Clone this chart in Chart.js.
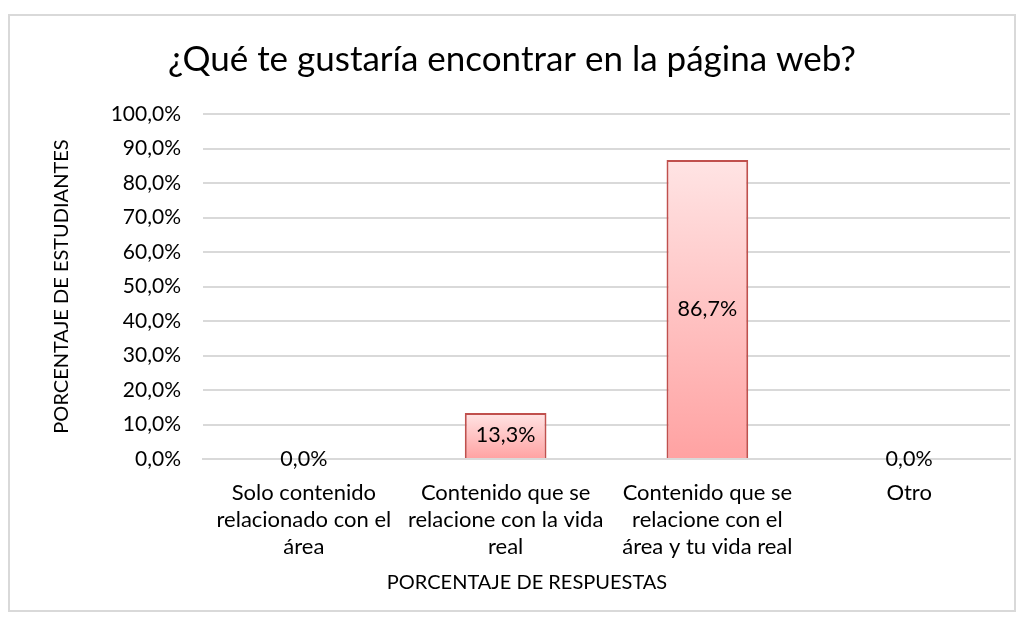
<!DOCTYPE html>
<html>
<head>
<meta charset="utf-8">
<script src="https://cdn.jsdelivr.net/npm/chart.js@4.4.1/dist/chart.umd.min.js"></script>
<style>
  html, body { margin: 0; padding: 0; background: #fff; }
  #wrap { width: 1024px; height: 625px; }
</style>
</head>
<body>
<div id="wrap"><canvas id="grafico" width="1024" height="625"></canvas></div>
<script>
// datos del grafico
const categorias = [
    ['Solo contenido', 'relacionado con el', 'área'],
    ['Contenido que se', 'relacione con la vida', 'real'],
    ['Contenido que se', 'relacione con el', 'área y tu vida real'],
    ['Otro']
];
const porcentajes = [0.0, 13.3, 86.7, 0.0];
const ticksY = [0, 10, 20, 30, 40, 50, 60, 70, 80, 90, 100];

const FUENTE = 'Lato, "Noto Sans", sans-serif';
const TITULO_X = 'PORCENTAJE DE RESPUESTAS';

function formato(v) {
    return v.toFixed(1).replace('.', ',') + '%';
}

// fondo, borde exterior y titulo del eje x (Excel lo centra en el grafico, no en el area)
const marco = {
    id: 'marco',
    beforeDraw(chart) {
        const c = chart.ctx;
        c.save();
        c.fillStyle = '#ffffff';
        c.fillRect(0, 0, chart.width, chart.height);
        c.strokeStyle = '#d9d9d9';
        c.lineWidth = 2;
        c.strokeRect(9, 15, 1006, 596);
        c.restore();
    },
    afterDraw(chart) {
        const c = chart.ctx;
        const xs = chart.scales.x;
        c.save();
        c.font = '20px ' + FUENTE;
        c.fillStyle = '#000';
        c.textAlign = 'center';
        c.textBaseline = 'middle';
        c.fillText(TITULO_X, 527, xs.bottom - 22);
        c.restore();
    }
};

// etiquetas de valor en el centro de cada barra
const etiquetas = {
    id: 'etiquetas',
    afterDatasetsDraw(chart) {
        const c = chart.ctx;
        const meta = chart.getDatasetMeta(0);
        c.save();
        c.font = '21.5px ' + FUENTE;
        c.fillStyle = '#000';
        c.textAlign = 'center';
        c.textBaseline = 'middle';
        meta.data.forEach((bar, i) => {
            const y = (bar.y + bar.base) / 2;
            c.fillText(formato(porcentajes[i]), bar.x, y);
        });
        c.restore();
    }
};

function degradado(context) {
    const chart = context.chart;
    if (!chart.chartArea) return '#ffc0c0';
    const yScale = chart.scales.y;
    const v = context.raw || 0;
    const top = yScale.getPixelForValue(v);
    const base = yScale.getPixelForValue(0);
    if (base - top < 1) return '#ffc0c0';
    const g = chart.ctx.createLinearGradient(0, top, 0, base);
    g.addColorStop(0, '#ffe4e4');
    g.addColorStop(1, '#ffa2a2');
    return g;
}

new Chart(document.getElementById('grafico'), {
    type: 'bar',
    data: {
        labels: categorias,
        datasets: [{
            data: porcentajes,
            backgroundColor: degradado,
            borderColor: '#c0504d',
            borderWidth: ctx => (ctx.raw > 0 ? 2 : 0),
            barPercentage: 0.405,
            categoryPercentage: 1
        }]
    },
    options: {
        responsive: false,
        animation: false,
        layout: { padding: { left: 14, right: 14, top: 20, bottom: 20 } },
        plugins: {
            legend: { display: false },
            tooltip: { enabled: false },
            title: {
                display: true,
                text: '¿Qué te gustaría encontrar en la página web?',
                color: '#000',
                font: { family: FUENTE, size: 35, weight: 'normal' },
                padding: { top: 19, bottom: 33 }
            }
        },
        scales: {
            x: {
                grid: { display: false, drawTicks: false },
                border: { display: true, color: '#d9d9d9', width: 2 },
                ticks: {
                    color: '#000',
                    font: { family: FUENTE, size: 22, lineHeight: 1.23 },
                    padding: 20,
                    maxRotation: 0,
                    autoSkip: false
                },
                afterFit(scale) { scale.height = 146; }
            },
            y: {
                min: 0,
                max: 100,
                afterBuildTicks(scale) {
                    scale.ticks = ticksY.map(v => ({ value: v }));
                },
                grid: { color: '#d9d9d9', lineWidth: 2, drawTicks: false },
                border: { display: false },
                ticks: {
                    color: '#000',
                    font: { family: FUENTE, size: 21 },
                    padding: 22,
                    callback: v => formato(v)
                },
                title: {
                    display: true,
                    text: 'PORCENTAJE DE ESTUDIANTES',
                    color: '#000',
                    font: { family: FUENTE, size: 20 },
                    padding: { top: 36, bottom: 0 }
                },
                afterFit(scale) { scale.width = 203 - 14; }
            }
        }
    },
    plugins: [marco, etiquetas]
});
</script>
</body>
</html>
